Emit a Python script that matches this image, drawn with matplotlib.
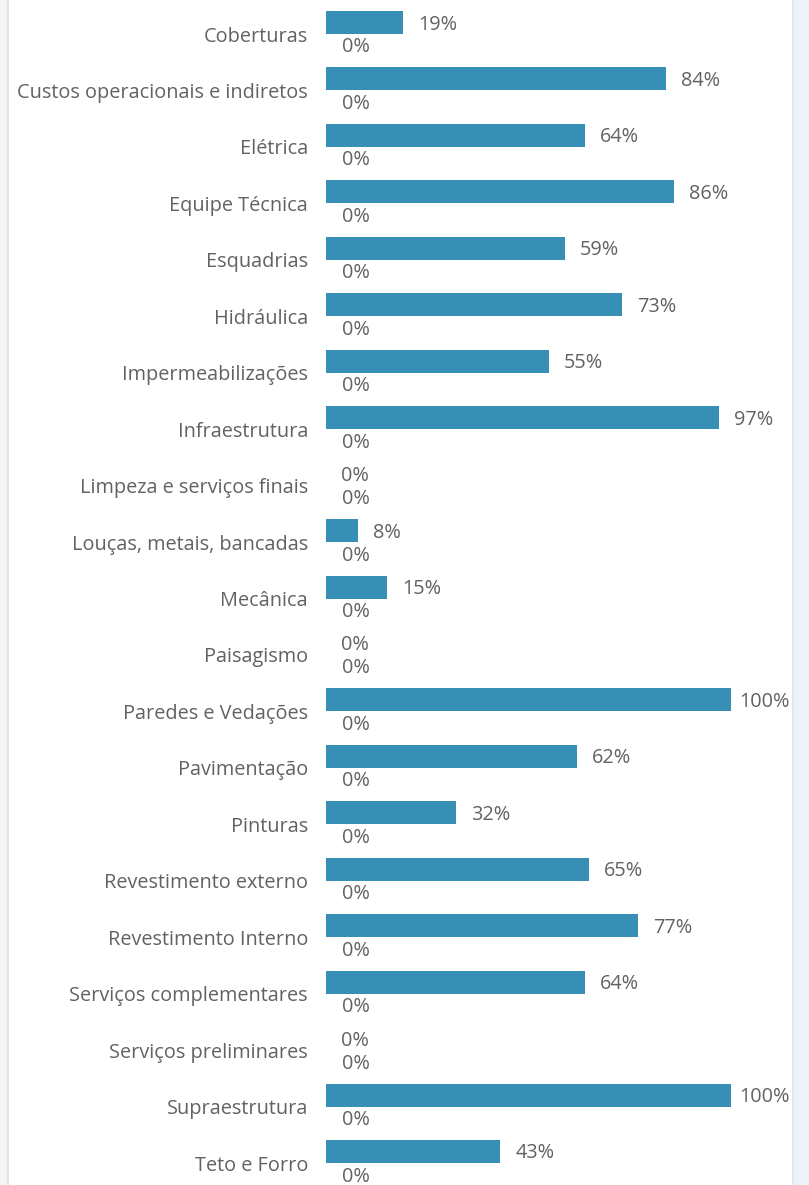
import numpy as np
import matplotlib.pyplot as plt
from matplotlib.patches import Rectangle

plt.rcParams['font.family'] = ['Open Sans', 'DejaVu Sans']

categories = [
    'Coberturas', 'Custos operacionais e indiretos', 'Elétrica', 'Equipe Técnica',
    'Esquadrias', 'Hidráulica', 'Impermeabilizações', 'Infraestrutura',
    'Limpeza e serviços finais', 'Louças, metais, bancadas', 'Mecânica',
    'Paisagismo', 'Paredes e Vedações', 'Pavimentação', 'Pinturas',
    'Revestimento externo', 'Revestimento Interno', 'Serviços complementares',
    'Serviços preliminares', 'Supraestrutura', 'Teto e Forro',
]
realizado = [19, 84, 64, 86, 59, 73, 55, 97, 0, 8, 15, 0, 100, 62, 32, 65, 77, 64, 0, 100, 43]
previsto = [0] * len(categories)

W, H = 809, 1185
BAR_COLOR = '#388fb5'
TEXT_COLOR = '#626262'
FS = 14.3

fig = plt.figure(figsize=(W / 100, H / 100), dpi=100)
fig.patch.set_facecolor('white')

# page background around the visual
fig.add_artist(Rectangle((0, 0), 7 / W, 1, transform=fig.transFigure,
                         facecolor='#f3f6f9', edgecolor='none'))
fig.add_artist(Rectangle((7 / W, 0), 1.5 / W, 1, transform=fig.transFigure,
                         facecolor='#e3e3e3', edgecolor='none'))
fig.add_artist(Rectangle((792 / W, 0), 17 / W, 1, transform=fig.transFigure,
                         facecolor='#eef3f8', edgecolor='none'))
fig.add_artist(Rectangle((792 / W, 0), 1.5 / W, 1, transform=fig.transFigure,
                         facecolor='#e4e8ec', edgecolor='none'))

x0, x1 = 326, 731
ax = fig.add_axes([x0 / W, 0, (x1 - x0) / W, 1])
ax.set_facecolor('none')

step = 56.45
top = -34 / step
bottom = (H - 34) / step
ax.set_xlim(0, 100)
ax.set_ylim(bottom, top)

y = np.arange(len(categories))
h = 23 / step
ax.barh(y - h / 2, realizado, height=h, color=BAR_COLOR)
ax.barh(y + h / 2, previsto, height=h, color=BAR_COLOR)

for yi, v in zip(y, realizado):
    ax.annotate(f'{v}%', (v, yi - h / 2), xytext=(15 if v < 100 else 8, -2),
                textcoords='offset pixels', va='center', ha='left',
                fontsize=FS, color=TEXT_COLOR, annotation_clip=False)
for yi, v in zip(y, previsto):
    ax.annotate(f'{v}%', (v, yi + h / 2), xytext=(16, -2),
                textcoords='offset pixels', va='center', ha='left',
                fontsize=FS, color=TEXT_COLOR, annotation_clip=False)

ax.set_yticks(y)
ax.set_yticklabels(categories, fontsize=FS, color=TEXT_COLOR)
ax.tick_params(axis='y', length=0, pad=13)
ax.set_xticks([])
for s in ax.spines.values():
    s.set_visible(False)

fig.savefig('out.png', dpi=100)
